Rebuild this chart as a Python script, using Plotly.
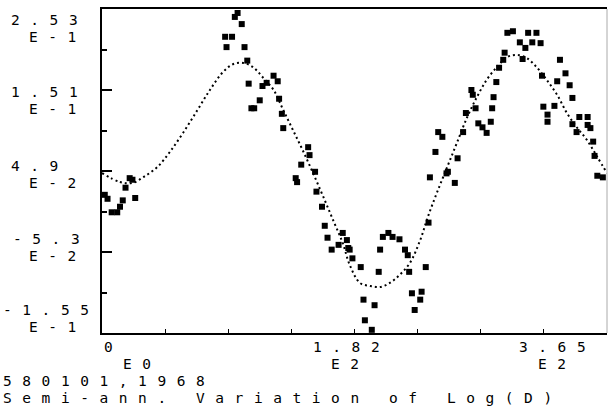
import plotly.graph_objects as go

# ---- data (day of year, semi-annual variation of log(D)) ----
fit_day = [0, 13, 22, 30, 40, 49, 58.5, 69, 78, 87.5, 95, 102, 109, 116, 124, 131, 138, 145,
           152.5, 160, 167, 174, 179, 186.5, 194, 201, 208, 215, 222.5, 230, 235.5, 242, 249.5,
           256.5, 264, 271, 278, 285.5, 293, 300, 307, 314, 321.5, 329, 336, 343, 350.5, 358, 365]
fit_val = [0.0465, 0.0351, 0.0339, 0.0414, 0.054, 0.0729, 0.0968, 0.1258, 0.151, 0.1737, 0.1837,
           0.185, 0.180, 0.1674, 0.151, 0.1258, 0.1006, 0.0754, 0.0465, 0.0163, -0.0127, -0.0417,
           -0.069, -0.092, -0.0958, -0.0971, -0.092, -0.082, -0.0669, -0.0379, -0.0089, 0.0213,
           0.054, 0.0843, 0.117, 0.1422, 0.1636, 0.180, 0.1926, 0.1951, 0.1913, 0.180, 0.1636,
           0.1447, 0.122, 0.1044, 0.088, 0.0666, 0.0465]

obs_day = [2, 4, 7, 11, 13, 15, 17, 20, 22, 24,
           98, 96, 101, 89, 94, 90, 103, 105, 106, 110, 108, 114, 116, 119, 124, 127, 128, 130,
           131, 149, 150, 144, 154, 140, 141, 155, 159, 161, 163, 166, 171, 174, 177, 178,
           179, 181, 187, 189, 190, 195, 197, 200, 201, 203, 207, 210, 215, 219, 221, 222, 224,
           226, 230, 231, 234, 236, 237, 241, 243, 246, 249, 250, 255, 257, 261, 263, 267, 268,
           270, 272, 275, 278, 281, 282, 283, 285, 287, 290, 291, 293, 297, 302, 306, 308, 314,
           311, 317, 304, 318, 319, 322, 327, 322, 329, 331, 335, 338, 340, 340, 343, 345, 351,
           351, 353, 355, 356, 358, 362]
obs_val = [0.019, 0.014, -0.003, -0.003, 0.004, 0.012, 0.028, 0.040, 0.038, 0.015,
           0.248, 0.243, 0.234, 0.218, 0.218, 0.205, 0.205, 0.188, 0.159, 0.128, 0.128, 0.138,
           0.156, 0.160, 0.169, 0.162, 0.140, 0.121, 0.103, 0.079, 0.069, 0.057, 0.048, 0.040,
           0.035, 0.023, 0.004, -0.020, -0.035, -0.050, -0.044, -0.029, -0.038, -0.048,
           -0.050, -0.061, -0.072, -0.113, -0.139, -0.151, -0.120, -0.078, -0.050, -0.034,
           -0.029, -0.034, -0.037, -0.050, -0.057, -0.078, -0.105, -0.126, -0.113, -0.103,
           -0.072, -0.016, 0.041, 0.073, 0.098, 0.092, 0.046, 0.048, 0.034, 0.065, 0.098, 0.122,
           0.151, 0.145, 0.128, 0.109, 0.104, 0.097, 0.111, 0.128, 0.142, 0.161, 0.179, 0.189,
           0.198, 0.223, 0.225, 0.211, 0.204, 0.223, 0.223, 0.211, 0.210, 0.190, 0.169, 0.130,
           0.120, 0.131, 0.111, 0.162, 0.189, 0.172, 0.157, 0.141, 0.108, 0.098, 0.117, 0.117,
           0.107, 0.103, 0.086, 0.068, 0.043, 0.041]

y_tick_vals = [0.253, 0.151, 0.049, -0.053, -0.155]
y_tick_mant = ["2.53", "1.51", "4.9", "-5.3", "-1.55"]
y_tick_exp = ["E-1", "E-1", "E-2", "E-2", "E-1"]
x_tick_vals = [0, 182, 365]
x_tick_mant = ["0", "1.82", "3.65"]
x_tick_exp = ["E0", "E2", "E2"]
caption_1 = "580101,1968"
caption_2 = "Semi-ann. Variation of Log(D)"

# ---- styling ----
SIZE = 14.5
ADV = 0.602 * SIZE      # DejaVu Sans Mono advance
LS = 19.3 - ADV         # plotter-like character pitch of ~19 px
FONT = dict(family="DejaVu Sans Mono", size=SIZE, color="black")


def spaced(t):
    return '<span style="letter-spacing:%.2fpx">%s</span>' % (LS, t)


fig = go.Figure()
fig.add_trace(go.Scatter(x=fit_day, y=fit_val, mode="lines", line_shape="spline",
                         line=dict(color="black", width=2, dash="2px,3px"),
                         hoverinfo="skip", showlegend=False))
fig.add_trace(go.Scatter(x=obs_day, y=obs_val, mode="markers",
                         marker=dict(symbol="square", size=6, color="black"),
                         showlegend=False))


def label(**kw):
    fig.add_annotation(showarrow=False, font=FONT, borderpad=0, yanchor="middle",
                       xanchor="left", **kw)


# y tick labels (mantissa line / exponent line), left edges in px from figure edge
y_num_start = [10, 10, 10, 12, 2]
y_exp_start = 28
y_num_shift = [-10.5, -1.75, 5.25, 13, 23]
y_exp_shift = [-27.5, -18.75, -11.75, -4, 6]
for v, m, e, xs, ns, es in zip(y_tick_vals, y_tick_mant, y_tick_exp, y_num_start,
                               y_num_shift, y_exp_shift):
    label(xref="paper", yref="y", x=0, y=v, xshift=xs - 102, yshift=ns, text=spaced(m))
    label(xref="paper", yref="y", x=0, y=v, xshift=y_exp_start - 102, yshift=es, text=spaced(e))

# x tick labels
x_num_shift = [1, -42, -89]
x_exp_shift = [20, -24, -70]
for v, m, e, ns, es in zip(x_tick_vals, x_tick_mant, x_tick_exp, x_num_shift, x_exp_shift):
    label(xref="x", yref="paper", x=v, y=0, xshift=ns, yshift=-14, text=spaced(m))
    label(xref="x", yref="paper", x=v, y=0, xshift=es, yshift=-31, text=spaced(e))

# captions
label(xref="paper", yref="paper", x=0, y=0, xshift=2 - 102, yshift=-48, text=spaced(caption_1))
label(xref="paper", yref="paper", x=0, y=0, xshift=2 - 102, yshift=-65, text=spaced(caption_2))

fig.add_shape(type="line", xref="paper", yref="paper", x0=1, x1=1, y0=0, y1=1,
              line=dict(color="#aaaaaa", width=1))

fig.update_xaxes(range=[0, 365], showgrid=False, zeroline=False, showline=True,
                 linecolor="black", linewidth=2, mirror=True,
                 tickmode="array", tickvals=[i * 365 / 8 for i in range(9)],
                 ticks="inside", ticklen=4, tickwidth=1, tickcolor="black",
                 showticklabels=False)
fig.update_yaxes(range=[-0.155, 0.253], showgrid=False, zeroline=False, showline=True,
                 linecolor="black", linewidth=2,
                 tickmode="array", tickvals=y_tick_vals,
                 ticks="inside", ticklen=10, tickwidth=1.5, tickcolor="black",
                 showticklabels=False,
                 minor=dict(tickmode="array",
                            tickvals=[0.202, 0.100, -0.002, -0.104],
                            ticks="inside", ticklen=5, tickwidth=1.5, tickcolor="black"))
fig.update_layout(width=608, height=412, margin=dict(l=102, r=1, t=9, b=79),
                  paper_bgcolor="white", plot_bgcolor="white", showlegend=False)
fig.write_html("out.html")
